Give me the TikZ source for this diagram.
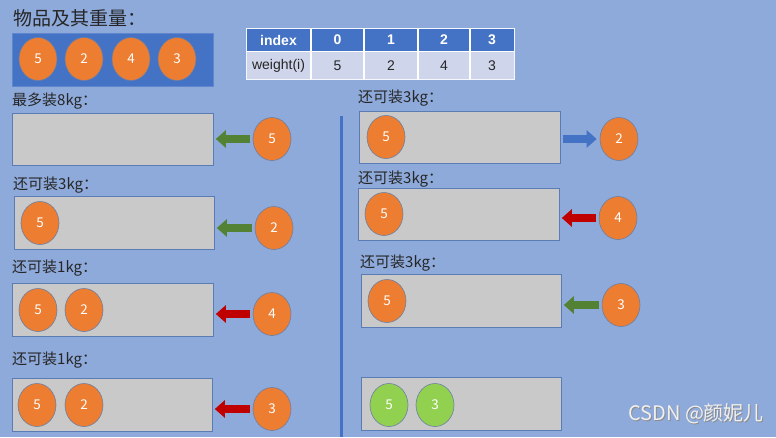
\documentclass[tikz,border=0pt]{standalone}
\usepackage{fontspec}
\setmainfont{Noto Sans CJK SC}
\newfontfamily\tabfont{Liberation Sans}
\usetikzlibrary{shapes.geometric,arrows.meta}
\definecolor{bg}{HTML}{8EAADB}
\definecolor{dkblue}{HTML}{4472C4}
\definecolor{orng}{HTML}{ED7D31}
\definecolor{lgreen}{HTML}{92D050}
\definecolor{agreen}{HTML}{548235}
\definecolor{ared}{HTML}{C00000}
\definecolor{boxgray}{HTML}{C9C9C9}
\definecolor{boxline}{HTML}{5B7BB4}
\definecolor{ballline}{HTML}{6A7FA6}
\definecolor{tbody}{HTML}{CFD5EA}
\definecolor{txt}{HTML}{262626}
\begin{document}
\begin{tikzpicture}[x=1pt,y=-1pt,
  ball/.style={ellipse, minimum width=38pt, minimum height=43pt, inner sep=0pt,
    fill=orng, draw=ballline, line width=0.6pt, text=white,
    font=\fontsize{13.5}{13.5}\selectfont},
  gball/.style={ball, fill=lgreen},
  bag/.style={rectangle, anchor=north west, fill=boxgray, draw=boxline,
    line width=0.8pt, minimum width=201pt, minimum height=52pt, inner sep=0pt},
  lbl/.style={anchor=west, inner sep=0pt, font=\fontsize{15}{15}\selectfont, text=txt},
  barrow/.style={line width=8.5pt, -{Triangle[length=10pt,width=17pt]},
    shorten <=3pt, shorten >=2pt},
  thead/.style={font=\tabfont\bfseries\fontsize{14}{14}\selectfont, text=white, inner sep=0pt},
  tcell/.style={font=\tabfont\fontsize{14}{14}\selectfont, text=txt, inner sep=0pt},
]
\fill[bg] (0,0) rectangle (776,437);
\useasboundingbox (0,0) rectangle (776,437);

% title and items
\node[anchor=west, inner sep=0pt, font=\fontsize{19}{19}\selectfont, text=txt] (title) at (13,18) {物品及其重量：};
\node[anchor=north west, fill=dkblue, draw=dkblue!85!white, line width=0.8pt,
  minimum width=201pt, minimum height=53pt, inner sep=0pt] (items) at (12,33) {};
\node[ball] (it0) at (38,59) {5};
\node[ball] (it1) at (84,59) {2};
\node[ball] (it2) at (131,59) {4};
\node[ball] (it3) at (177,59) {3};

% table
\fill[dkblue] (246,28) rectangle (514,51.5);
\fill[tbody] (246,51.5) rectangle (514,79);
\draw[white, line width=1.2pt] (311,28) -- (311,79) (364,28) -- (364,79)
  (418,28) -- (418,79) (470,28) -- (470,79) (246,51.5) -- (514,51.5);
\draw[white!90!bg, line width=0.8pt] (246,28) rectangle (514,79);
\node[thead] (h0) at (278.5,40) {index};
\node[thead] (h1) at (337.5,40) {0};
\node[thead] (h2) at (391,40) {1};
\node[thead] (h3) at (444,40) {2};
\node[thead] (h4) at (492,40) {3};
\node[tcell] (w0) at (278.5,65.5) {weight(i)};
\node[tcell] (w1) at (337.5,65.5) {5};
\node[tcell] (w2) at (391,65.5) {2};
\node[tcell] (w3) at (444,65.5) {4};
\node[tcell] (w4) at (492,65.5) {3};

% left column
\node[lbl] (l1) at (12,101) {最多装8kg：};
\node[bag] (b1) at (12,113) {};
\node[ball] (o1) at (272,139) {5};
\draw[barrow, agreen] (o1.west) -- (o1.west -| b1.east);

\node[lbl] (l2) at (13,185) {还可装3kg：};
\node[bag, minimum width=200pt, minimum height=53pt] (b2) at (14,196) {};
\node[ball] (b2a) at (40,223) {5};
\node[ball] (o2) at (274,228) {2};
\draw[barrow, agreen] (o2.west) -- (o2.west -| b2.east);

\node[lbl] (l3) at (12,268) {还可装1kg：};
\node[bag, minimum height=53pt] (b3) at (12,283) {};
\node[ball] (b3a) at (38,310) {5};
\node[ball] (b3b) at (84,310) {2};
\node[ball] (o3) at (272,314) {4};
\draw[barrow, ared] (o3.west) -- (o3.west -| b3.east);

\node[lbl] (l4) at (12,360) {还可装1kg：};
\node[bag, minimum width=200pt, minimum height=53pt] (b4) at (12,378) {};
\node[ball] (b4a) at (37,405) {5};
\node[ball] (b4b) at (84,405) {2};
\node[ball] (o4) at (272,409) {3};
\draw[barrow, ared] (o4.west) -- (o4.west -| b4.east);

% divider
\draw[dkblue, line width=3pt] (341,116) -- (341,437);

% right column
\node[lbl] (r1l) at (358,98) {还可装3kg：};
\node[bag] (r1) at (359,111) {};
\node[ball] (r1a) at (386,137) {5};
\node[ball] (p1) at (619,139) {2};
\draw[barrow, dkblue, shorten <=2pt, shorten >=3pt] (p1.west -| r1.east) -- (p1.west);

\node[lbl] (r2l) at (358,179) {还可装3kg：};
\node[bag] (r2) at (358,188) {};
\node[ball] (r2a) at (384,214) {5};
\node[ball] (p2) at (618,218) {4};
\draw[barrow, ared] (p2.west) -- (p2.west -| r2.east);

\node[lbl] (r3l) at (360,263) {还可装3kg：};
\node[bag, minimum width=200pt, minimum height=53pt] (r3) at (361,274) {};
\node[ball] (r3a) at (387,301) {5};
\node[ball] (p3) at (621,305) {3};
\draw[barrow, agreen] (p3.west) -- (p3.west -| r3.east);

\node[bag, minimum width=200pt, minimum height=53pt] (r4) at (361,377) {};
\node[gball] (r4a) at (389,405) {5};
\node[gball] (r4b) at (435,405) {3};

% watermark
\node[anchor=west, inner sep=0pt, font=\fontsize{20}{20}\selectfont, text=black!45] (wms) at (629,415) {CSDN @颜妮儿};
\node[anchor=west, inner sep=0pt, font=\fontsize{20}{20}\selectfont, text=white!94!black] (wm) at (628,414) {CSDN @颜妮儿};
\end{tikzpicture}
\end{document}
